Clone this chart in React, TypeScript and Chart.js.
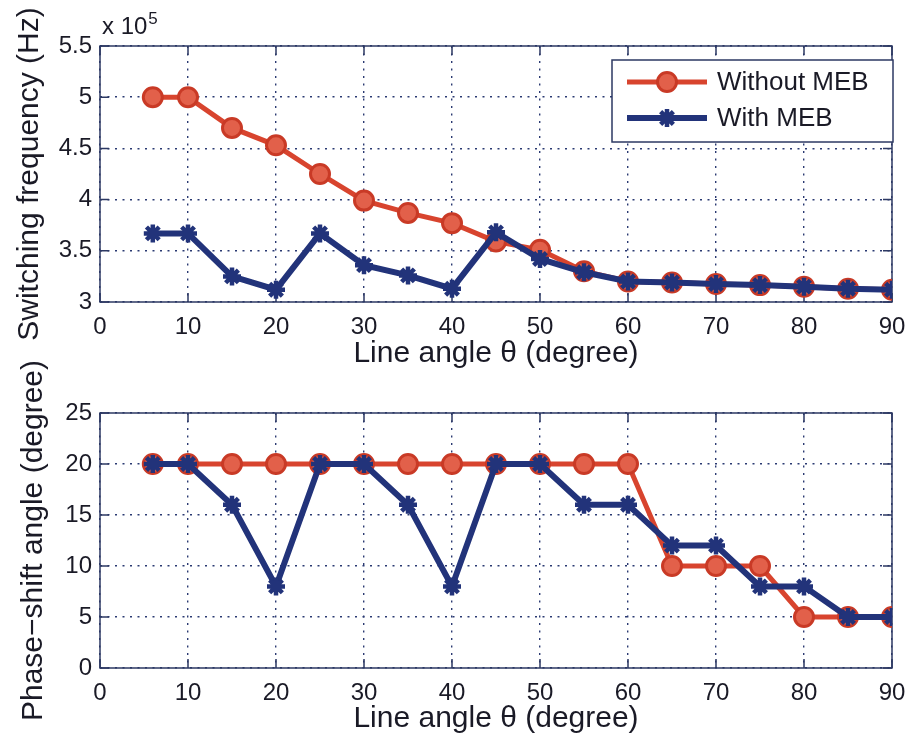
import React, { useEffect, useRef } from "react";
import { Chart, registerables } from "chart.js";
import { drawPoint } from "chart.js/helpers";

Chart.register(...registerables);

// Line angle θ (degree) of each operating point
const angles = [6, 10, 15, 20, 25, 30, 35, 40, 45, 50, 55, 60, 65, 70, 75, 80, 85, 90];

// Switching frequency (Hz)
const freqWithoutMEB = [
  500000, 500000, 470000, 453000, 425000, 399000, 387000, 377000, 359000,
  351000, 330000, 320000, 319000, 317500, 316500, 315000, 313000, 312000,
];
const freqWithMEB = [
  367000, 367000, 325000, 312000, 367000, 336000, 326000, 313000, 368000,
  342000, 329000, 320000, 319000, 317500, 316500, 315000, 313000, 312000,
];

// Phase-shift angle (degree)
const phaseWithoutMEB = [20, 20, 20, 20, 20, 20, 20, 20, 20, 20, 20, 20, 10, 10, 10, 5, 5, 5];
const phaseWithMEB = [20, 20, 16, 8, 20, 20, 16, 8, 20, 20, 16, 16, 12, 12, 8, 8, 5, 5];

const seriesLabels = ["Without MEB", "With MEB"];

// Axis ticks
const angleTicks = [0, 10, 20, 30, 40, 50, 60, 70, 80, 90];
const freqTicks = [300000, 350000, 400000, 450000, 500000, 550000];
const phaseTicks = [0, 5, 10, 15, 20, 25];
const FREQ_EXPONENT = 5;

const FONT = "'Liberation Sans', Arial, Helvetica, sans-serif";
const INK = "#1a1a26";
const FRAME = "#2d3963";
const GRID = "#2b3a72";
const RED = "#d8442e";
const RED_EDGE = "#c93a26";
const RED_FILL = "#e2604a";
const BLUE = "#22337a";

const W = 913;
const TOP_H = 372;
const BOTTOM_Y = 330;
const BOTTOM_H = 412;

const redStyle = {
  borderColor: RED,
  backgroundColor: RED_FILL,
  borderWidth: 5,
  pointStyle: "circle",
  pointRadius: 9.5,
  pointBorderWidth: 3,
  pointBorderColor: RED_EDGE,
  pointBackgroundColor: RED_FILL,
  order: 1,
};

const blueStyle = {
  borderColor: BLUE,
  backgroundColor: BLUE,
  borderWidth: 6,
  pointStyle: "star",
  pointRadius: 9,
  pointBorderWidth: 4.5,
  pointBorderColor: BLUE,
  pointBackgroundColor: BLUE,
  order: 0,
};

// Axes box with inward tick marks on all four sides
const framePlugin = {
  id: "frame",
  beforeDatasetsDraw(chart: any) {
    const { ctx, chartArea: a, scales } = chart;
    const xs = scales.x;
    const ys = scales.y;
    const len = 9;
    ctx.save();
    ctx.strokeStyle = FRAME;
    ctx.lineWidth = 1.5;
    ctx.strokeRect(a.left, a.top, a.right - a.left, a.bottom - a.top);
    ctx.beginPath();
    for (const t of xs.ticks) {
      const px = xs.getPixelForValue(t.value);
      ctx.moveTo(px, a.bottom);
      ctx.lineTo(px, a.bottom - len);
      ctx.moveTo(px, a.top);
      ctx.lineTo(px, a.top + len);
    }
    for (const t of ys.ticks) {
      const py = ys.getPixelForValue(t.value);
      ctx.moveTo(a.left, py);
      ctx.lineTo(a.left + len, py);
      ctx.moveTo(a.right, py);
      ctx.lineTo(a.right - len, py);
    }
    ctx.stroke();
    ctx.restore();
  },
};

// Boxed legend in the upper-right corner of the frequency plot
const insetLegendPlugin = {
  id: "insetLegend",
  afterDraw(chart: any) {
    const { ctx, chartArea: a } = chart;
    const boxW = 281;
    const boxH = 82;
    const left = a.right - boxW + 1;
    const top = a.top + 14;
    ctx.save();
    ctx.fillStyle = "#ffffff";
    ctx.fillRect(left, top, boxW, boxH);
    ctx.strokeStyle = FRAME;
    ctx.lineWidth = 1.5;
    ctx.strokeRect(left, top, boxW, boxH);
    chart.data.datasets.forEach((ds: any, i: number) => {
      const cy = top + 22 + i * 36;
      ctx.strokeStyle = ds.borderColor;
      ctx.lineWidth = ds.borderWidth;
      ctx.beginPath();
      ctx.moveTo(left + 15, cy);
      ctx.lineTo(left + 95, cy);
      ctx.stroke();
      ctx.fillStyle = ds.pointBackgroundColor;
      ctx.strokeStyle = ds.pointBorderColor;
      ctx.lineWidth = ds.pointBorderWidth;
      drawPoint(
        ctx,
        {
          pointStyle: ds.pointStyle,
          rotation: 0,
          radius: ds.pointRadius,
          borderWidth: ds.pointBorderWidth,
        },
        left + 55,
        cy
      );
      ctx.fillStyle = INK;
      ctx.font = `26px ${FONT}`;
      ctx.textBaseline = "middle";
      ctx.textAlign = "left";
      ctx.fillText(ds.label, left + 105, cy + 1);
    });
    ctx.restore();
  },
};

// "x 10^5" multiplier above the frequency axis
const exponentPlugin = {
  id: "exponentLabel",
  afterDraw(chart: any) {
    const { ctx, chartArea: a } = chart;
    ctx.save();
    ctx.fillStyle = INK;
    ctx.textBaseline = "alphabetic";
    ctx.textAlign = "left";
    ctx.font = `24px ${FONT}`;
    const base = "x 10";
    const x0 = a.left + 2;
    const y0 = a.top - 12;
    ctx.fillText(base, x0, y0);
    const w = ctx.measureText(base).width;
    ctx.font = `17px ${FONT}`;
    ctx.fillText(String(FREQ_EXPONENT), x0 + w + 1, y0 - 10);
    ctx.restore();
  },
};

function buildOptions(cfg: {
  yTicks: number[];
  yMin: number;
  yMax: number;
  yTitle: string;
  yFormat: (v: number) => string;
  padTop: number;
  xHeight: number;
  yTitlePad: number;
  xTitlePad: number;
}) {
  const gridOpts = { color: GRID, lineWidth: 1.4, drawTicks: false };
  const borderOpts = { display: false, dash: [2, 5.5] };
  return {
    responsive: false,
    animation: false,
    events: [],
    layout: {
      autoPadding: false,
      padding: { left: 0, right: 21, top: cfg.padTop, bottom: 0 },
    },
    plugins: { legend: { display: false }, tooltip: { enabled: false } },
    scales: {
      x: {
        type: "linear",
        min: 0,
        max: 90,
        afterBuildTicks: (s: any) => {
          s.ticks = angleTicks.map((v) => ({ value: v }));
        },
        afterFit: (s: any) => {
          s.height = cfg.xHeight;
          s.paddingLeft = 0;
          s.paddingRight = 0;
        },
        grid: gridOpts,
        border: borderOpts,
        ticks: {
          color: INK,
          font: { family: FONT, size: 24 },
          padding: 11,
          maxRotation: 0,
          autoSkip: false,
        },
        title: {
          display: true,
          text: "Line angle θ (degree)",
          color: INK,
          font: { family: FONT, size: 30 },
          padding: { top: 0, bottom: cfg.xTitlePad },
        },
      },
      y: {
        type: "linear",
        min: cfg.yMin,
        max: cfg.yMax,
        afterBuildTicks: (s: any) => {
          s.ticks = cfg.yTicks.map((v) => ({ value: v }));
        },
        afterFit: (s: any) => {
          s.width = 100;
        },
        grid: gridOpts,
        border: borderOpts,
        ticks: {
          color: INK,
          font: { family: FONT, size: 24 },
          padding: 8,
          autoSkip: false,
          callback: (v: number) => cfg.yFormat(v),
        },
        title: {
          display: true,
          text: cfg.yTitle,
          color: INK,
          font: { family: FONT, size: 30 },
          padding: { top: cfg.yTitlePad, bottom: 0 },
        },
      },
    },
  };
}

export default function App() {
  const topRef = useRef<HTMLCanvasElement | null>(null);
  const bottomRef = useRef<HTMLCanvasElement | null>(null);

  useEffect(() => {
    const toPoints = (ys: number[]) => angles.map((x, i) => ({ x, y: ys[i] }));

    const freqChart = new Chart(topRef.current as HTMLCanvasElement, {
      type: "line",
      data: {
        datasets: [
          { label: seriesLabels[0], data: toPoints(freqWithoutMEB), ...redStyle },
          { label: seriesLabels[1], data: toPoints(freqWithMEB), ...blueStyle },
        ],
      },
      options: buildOptions({
        yTicks: freqTicks,
        yMin: freqTicks[0],
        yMax: freqTicks[freqTicks.length - 1],
        yTitle: "Switching frequency (Hz)",
        yFormat: (v) => String(v / Math.pow(10, FREQ_EXPONENT)),
        padTop: 46,
        xHeight: 70,
        yTitlePad: 12,
        xTitlePad: 0,
      }) as any,
      plugins: [framePlugin, insetLegendPlugin, exponentPlugin],
    });

    const phaseChart = new Chart(bottomRef.current as HTMLCanvasElement, {
      type: "line",
      data: {
        datasets: [
          { label: seriesLabels[0], data: toPoints(phaseWithoutMEB), ...redStyle },
          { label: seriesLabels[1], data: toPoints(phaseWithMEB), ...blueStyle },
        ],
      },
      options: buildOptions({
        yTicks: phaseTicks,
        yMin: phaseTicks[0],
        yMax: phaseTicks[phaseTicks.length - 1],
        yTitle: "Phase\u2212shift angle (degree)",
        yFormat: (v) => String(v),
        padTop: 83,
        xHeight: 74,
        yTitlePad: 16,
        xTitlePad: 5,
      }) as any,
      plugins: [framePlugin],
    });

    return () => {
      freqChart.destroy();
      phaseChart.destroy();
    };
  }, []);

  return (
    <div
      style={{
        position: "absolute",
        left: 0,
        top: 0,
        width: W,
        height: BOTTOM_Y + BOTTOM_H,
        background: "#ffffff",
      }}
    >
      <canvas
        ref={topRef}
        width={W}
        height={TOP_H}
        style={{ position: "absolute", left: 0, top: 0, display: "block" }}
      />
      <canvas
        ref={bottomRef}
        width={W}
        height={BOTTOM_H}
        style={{ position: "absolute", left: 0, top: BOTTOM_Y, display: "block" }}
      />
    </div>
  );
}
